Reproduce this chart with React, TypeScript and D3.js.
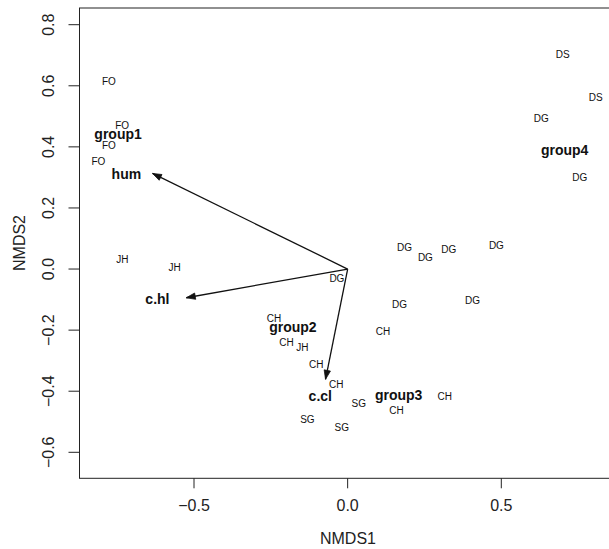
import React from "react";
import * as d3 from "d3";

const siteLabels = ["FO","FO","FO","FO","JH","JH","JH","DG","CH","CH","CH","CH","CH","CH","CH","SG","SG","SG","DG","DG","DG","DG","DG","DG","DS","DS","DG","DG"];
const siteX = [-0.777,-0.734,-0.777,-0.811,-0.733,-0.563,-0.147,-0.035,-0.240,-0.199,-0.102,-0.037,0.316,0.159,0.115,0.036,-0.131,-0.019,0.185,0.253,0.329,0.484,0.169,0.406,0.700,0.807,0.630,0.755];
const siteY = [0.613,0.469,0.404,0.353,0.032,0.004,-0.258,-0.030,-0.161,-0.240,-0.314,-0.379,-0.418,-0.464,-0.203,-0.440,-0.494,-0.518,0.070,0.037,0.065,0.076,-0.116,-0.102,0.704,0.561,0.493,0.301];

const groupNames = ["group1","group2","group3","group4"];
const groupX = [-0.747,-0.178,0.166,0.706];
const groupY = [0.442,-0.191,-0.413,0.390];

const vectorNames = ["hum","c.hl","c.cl"];
const vectorX = [-0.635,-0.525,-0.072];
const vectorY = [0.313,-0.094,-0.361];
const vectorLabelX = [-0.720,-0.619,-0.089];
const vectorLabelY = [0.311,-0.099,-0.416];

const xTicks = [-0.5, 0, 0.5];
const yTicks = [-0.6, -0.4, -0.2, 0, 0.2, 0.4, 0.6, 0.8];

const W = 609, H = 549;
const frame = { left: 79.5, right: 617, top: 8, bottom: 478.3 };
const FONT = "'Liberation Sans', Arial, Helvetica, sans-serif";

const fmt = (v: number) => {
  const s = v.toFixed(1);
  return v < 0 ? "\u2212" + s.slice(1) : s;
};

export default function App() {
  const x = d3.scaleLinear().domain([-0.5, 0.5]).range([194, 501.3]);
  const y = d3.scaleLinear().domain([-0.6, 0.8]).range([452.3, 24.7]);

  const arrowHead = (x0: number, y0: number, x1: number, y1: number) => {
    const ang = Math.atan2(y1 - y0, x1 - x0);
    const len = 9, half = 3.2;
    const bx = x1 - len * Math.cos(ang), by = y1 - len * Math.sin(ang);
    const px = -Math.sin(ang) * half, py = Math.cos(ang) * half;
    const p = d3.path();
    p.moveTo(x1, y1);
    p.lineTo(bx + px, by + py);
    p.lineTo(bx - px, by - py);
    p.closePath();
    return p.toString();
  };

  return (
    <svg width={W} height={H} style={{ position: "absolute", left: 0, top: 0, background: "#fff" }} fontFamily={FONT}>
      <rect x={0} y={0} width={W} height={H} fill="#fff" />
      {/* frame */}
      <rect x={frame.left} y={frame.top} width={frame.right - frame.left} height={frame.bottom - frame.top} fill="none" stroke="#222" strokeWidth={1} />
      {/* x axis ticks */}
      {xTicks.map((t, i) => (
        <g key={"xt" + i}>
          <line x1={x(t)} x2={x(t)} y1={frame.bottom} y2={frame.bottom + 10} stroke="#222" />
          <text x={x(t)} y={510.5} fontSize={16} textAnchor="middle" fill="#222">{fmt(t)}</text>
        </g>
      ))}
      {/* y axis ticks */}
      {yTicks.map((t, i) => (
        <g key={"yt" + i}>
          <line x1={frame.left - 11} x2={frame.left} y1={y(t)} y2={y(t)} stroke="#222" />
          <text transform={`translate(54,${y(t)}) rotate(-90)`} fontSize={16} textAnchor="middle" fill="#222">{fmt(t)}</text>
        </g>
      ))}
      <text x={348} y={544} fontSize={16} textAnchor="middle" fill="#222">NMDS1</text>
      <text transform={`translate(25,243) rotate(-90)`} fontSize={16} textAnchor="middle" fill="#222">NMDS2</text>

      {/* arrows */}
      {vectorNames.map((n, i) => (
        <g key={"v" + i}>
          <line x1={x(0)} y1={y(0)} x2={x(vectorX[i])} y2={y(vectorY[i])} stroke="#111" strokeWidth={1.3} />
          <path d={arrowHead(x(0), y(0), x(vectorX[i]), y(vectorY[i]))} fill="#111" stroke="#111" strokeWidth={0.8} />
          <text x={x(vectorLabelX[i])} y={y(vectorLabelY[i])} dy="0.35em" fontSize={14} fontWeight="bold" textAnchor="middle" fill="#111">{n}</text>
        </g>
      ))}

      {/* site labels */}
      {siteLabels.map((s, i) => (
        <text key={"s" + i} x={x(siteX[i])} y={y(siteY[i])} dy="0.35em" fontSize={10} textAnchor="middle" fill="#111">{s}</text>
      ))}

      {/* group centroids */}
      {groupNames.map((g, i) => (
        <text key={"g" + i} x={x(groupX[i])} y={y(groupY[i])} dy="0.35em" fontSize={14} fontWeight="bold" textAnchor="middle" fill="#111">{g}</text>
      ))}
    </svg>
  );
}
